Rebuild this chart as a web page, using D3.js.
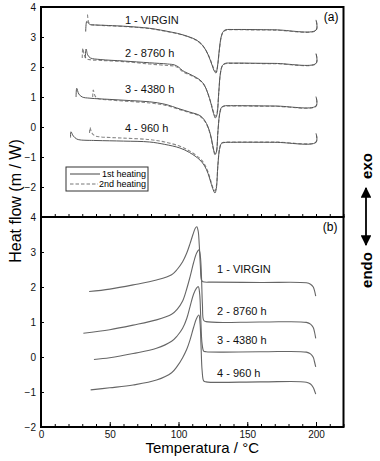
<!DOCTYPE html>
<html lang="en">
<head>
<meta charset="UTF-8">
<title>DSC heating / cooling</title>
<script src="https://d3js.org/d3.v7.min.js"></script>
<style>
  body { margin: 0; background: #fff; }
  svg { font-family: "Liberation Sans", Arial, sans-serif; }
  .tick text { font-size: 10px; fill: #111; }
  .tick line { stroke: #000; }
</style>
</head>
<body>
<svg id="chart" width="380" height="461"></svg>
<script>
// ---- data (temperature °C, heat flow) ----
// panel (a): heating scans
var heat1_virgin = [[32.5,3.18],[33.3,3.52],[34.5,3.46],[36,3.41],[40,3.40],[60,3.36],[79,3.29],[94,3.17],[101,3.1],[108,3.0],[113,2.9],[117,2.75],[120,2.55],[122.5,2.3],[124.5,2.05],[126.2,1.85],[127.3,1.8],[128.3,2.0],[129.5,2.5],[131,3.0],[132.5,3.18],[134.5,3.24],[140,3.25],[170,3.24],[200,3.23],[200,3.57]];
var heat2_virgin = [[33.8,3.75],[34.6,3.5],[35.5,3.43],[40,3.40],[60,3.35],[79,3.28],[94,3.16],[101,3.09],[108,2.99],[113,2.89],[117,2.74],[120,2.55],[122.5,2.32],[124.5,2.08],[126.2,1.9],[127.5,1.84],[128.5,2.05],[129.7,2.55],[131.2,3.02],[132.7,3.18],[134.5,3.23],[140,3.24],[170,3.23],[200,3.22],[200,3.57]];
var heat1_8760 = [[32.2,2.3],[32.8,2.6],[34,2.4],[36,2.3],[43,2.25],[60,2.2],[79,2.14],[92,2.1],[97,2.07],[100,2.0],[103,1.88],[110,1.72],[115.6,1.57],[119,1.38],[121.5,1.1],[123.5,0.8],[125.5,0.45],[126.8,0.3],[128,0.42],[129.2,1.1],[130.5,1.8],[132,2.05],[134,2.12],[140,2.13],[170,2.12],[200,2.12],[200,2.45]];
var heat2_8760 = [[30,2.3],[30.4,2.62],[31.5,2.4],[33,2.28],[36,2.24],[43,2.22],[60,2.18],[79,2.1],[92,2.05],[97,2.03],[100,1.97],[103,1.85],[110,1.7],[115.6,1.55],[119,1.37],[121.5,1.1],[123.5,0.82],[125.5,0.5],[126.9,0.36],[128,0.48],[129.3,1.15],[130.6,1.82],[132,2.05],[134,2.11],[140,2.12],[170,2.11],[200,2.11],[200,2.45]];
var heat1_4380 = [[25.5,1.0],[26,1.29],[27.5,1.1],[30,1.0],[35.6,0.96],[50,0.92],[65,0.88],[79,0.84],[90,0.76],[101,0.6],[108,0.5],[115.6,0.38],[119,0.22],[121.5,0.0],[123.5,-0.3],[125.3,-0.7],[126.5,-0.92],[127.5,-0.85],[128.6,-0.2],[129.8,0.4],[131.2,0.65],[133,0.7],[140,0.71],[170,0.7],[200,0.7],[200,1.01]];
var heat2_4380 = [[37.6,1.0],[38,1.23],[39.5,1.02],[42,0.94],[50,0.9],[65,0.85],[79,0.8],[90,0.73],[101,0.58],[108,0.48],[115.6,0.36],[119,0.2],[121.5,-0.02],[123.5,-0.33],[125.3,-0.73],[126.6,-0.88],[127.6,-0.8],[128.7,-0.15],[129.9,0.42],[131.3,0.64],[133,0.69],[140,0.7],[170,0.69],[200,0.69],[200,1.01]];
var heat1_960 = [[21.5,-0.35],[21.8,-0.16],[23.5,-0.3],[26,-0.4],[28.4,-0.43],[40,-0.45],[60,-0.47],[79,-0.5],[90,-0.58],[101,-0.7],[108,-0.85],[115.6,-1.1],[119,-1.3],[121.5,-1.55],[123.5,-1.85],[125.3,-2.1],[126.5,-2.2],[127.5,-2.05],[128.6,-1.3],[129.8,-0.75],[131.2,-0.55],[133,-0.52],[140,-0.51],[170,-0.51],[200,-0.51],[200,-0.21]];
var heat2_960 = [[35.3,-0.2],[35.6,-0.02],[37,-0.2],[39.5,-0.3],[43,-0.33],[60,-0.37],[79,-0.42],[90,-0.5],[101,-0.64],[108,-0.8],[115.6,-1.05],[119,-1.25],[121.5,-1.5],[123.5,-1.8],[125.3,-2.05],[126.6,-2.12],[127.6,-1.95],[128.7,-1.25],[129.9,-0.72],[131.3,-0.54],[133,-0.51],[140,-0.5],[170,-0.5],[200,-0.5],[200,-0.21]];

// panel (b): cooling scans
var cool_virgin = [[35,1.87],[50,1.94],[67,2.06],[84,2.2],[95,2.35],[99,2.5],[103,2.72],[106,2.97],[108.4,3.24],[110.5,3.5],[112.2,3.68],[113.3,3.72],[114.3,3.6],[115.1,3.2],[115.9,2.6],[116.7,2.2],[117.8,2.15],[125,2.14],[160,2.13],[193,2.12],[196,2.08],[198,2.0],[199,1.88],[199.8,1.74]];
var cool_8760 = [[30.8,0.68],[50,0.78],[67,0.91],[84,1.06],[95,1.22],[99,1.36],[103,1.6],[106,1.95],[108.4,2.29],[111,2.7],[113.2,2.97],[114.9,3.06],[115.9,2.88],[116.7,2.3],[117.4,1.5],[118.3,1.05],[120,1.01],[160,1.0],[193,0.99],[196,0.94],[198,0.84],[199,0.7],[199.8,0.53]];
var cool_4380 = [[38.5,-0.07],[50,-0.02],[67,0.1],[84,0.25],[95,0.45],[99,0.6],[103,0.82],[106,1.1],[108.4,1.44],[111,1.8],[113.1,1.97],[114.4,2.01],[115.4,1.8],[116.2,1.1],[117.1,0.4],[118.3,0.17],[120,0.15],[160,0.15],[193,0.14],[196,0.09],[198,-0.01],[199,-0.15],[199.8,-0.28]];
var cool_960 = [[36.1,-0.94],[50,-0.88],[67,-0.8],[84,-0.66],[95,-0.45],[99,-0.27],[103,-0.02],[106,0.22],[108.4,0.49],[111,0.85],[113.1,1.1],[114.8,1.2],[115.7,0.95],[116.4,0.3],[117.2,-0.4],[118.3,-0.68],[120,-0.71],[160,-0.71],[193,-0.72],[196,-0.77],[198,-0.87],[199,-0.97],[199.8,-1.06]];

var sampleNames = ["1 - VIRGIN", "2 - 8760 h", "3 - 4380 h", "4 - 960 h"];
// label anchor points (T, value) for each sample in each panel
var labelsA = [[61,3.44],[61,2.34],[61,1.15],[61,-0.16]];
var labelsB = [[128,2.4],[128,1.21],[128,0.37],[128,-0.57]];

var xTicks = [0, 50, 100, 150, 200];
var yTicksA = [-2, -1, 0, 1, 2, 3, 4];
var yTicksB = [-2, -1, 0, 1, 2, 3, 4];
var legendNames = ["1st heating", "2nd heating"];

// ---- layout ----
var svg = d3.select("#chart");
var left = 41, right = 343.5;
var topA = 7, botA = 217, topB = 217, botB = 427;

var x = d3.scaleLinear().domain([0, 220]).range([left, right]);
var yA = d3.scaleLinear().domain([-3, 4]).range([botA, topA]);
var yB = d3.scaleLinear().domain([-2, 4]).range([botB, topB]);

var curve = d3.curveCatmullRom.alpha(0.5);
var lineA = d3.line().x(d => x(d[0])).y(d => yA(d[1])).curve(curve);
var lineB = d3.line().x(d => x(d[0])).y(d => yB(d[1])).curve(curve);

// ---- panel (a) curves ----
var firstHeat = [heat1_virgin, heat1_8760, heat1_4380, heat1_960];
var secondHeat = [heat2_virgin, heat2_8760, heat2_4380, heat2_960];

svg.append("g").selectAll("path").data(secondHeat).enter().append("path")
    .attr("d", lineA).attr("fill", "none")
    .attr("stroke", "#888").attr("stroke-width", 1.1)
    .attr("stroke-dasharray", "3.5,2");
svg.append("g").selectAll("path").data(firstHeat).enter().append("path")
    .attr("d", lineA).attr("fill", "none")
    .attr("stroke", "#555").attr("stroke-width", 1);

// ---- panel (b) curves ----
var cooling = [cool_virgin, cool_8760, cool_4380, cool_960];
svg.append("g").selectAll("path").data(cooling).enter().append("path")
    .attr("d", lineB).attr("fill", "none")
    .attr("stroke", "#666").attr("stroke-width", 1.1);

// sample labels
svg.append("g").selectAll("text").data(labelsA).enter().append("text")
    .attr("x", d => x(d[0])).attr("y", d => yA(d[1]))
    .attr("font-size", 11).attr("fill", "#111")
    .text((d, i) => sampleNames[i]);
svg.append("g").selectAll("text").data(labelsB).enter().append("text")
    .attr("x", d => x(d[0])).attr("y", d => yB(d[1]))
    .attr("font-size", 11).attr("fill", "#111")
    .text((d, i) => sampleNames[i]);

// ---- axes ----
var minorTicks = d3.range(0, 221, 10);

// panel (a): left axis, bottom minor ticks
svg.append("g").attr("transform", "translate(" + left + ",0)")
    .call(d3.axisLeft(yA).tickValues(yTicksA).tickSize(-3).tickPadding(5).tickFormat(d3.format("d")))
    .call(g => g.select(".domain").remove());
svg.append("g").attr("transform", "translate(0," + botA + ")")
    .call(d3.axisBottom(x).tickValues(minorTicks).tickSize(-3).tickFormat(""))
    .call(g => g.select(".domain").remove());

// panel (b): left axis, bottom axis
svg.append("g").attr("transform", "translate(" + left + ",0)")
    .call(d3.axisLeft(yB).tickValues(yTicksB).tickSize(-3).tickPadding(5).tickFormat(d3.format("d")))
    .call(g => g.select(".domain").remove());
svg.append("g").attr("transform", "translate(0," + botB + ")")
    .call(d3.axisBottom(x).tickValues(minorTicks).tickSize(-3).tickFormat(""))
    .call(g => g.select(".domain").remove());
svg.append("g").attr("transform", "translate(0," + botB + ")")
    .call(d3.axisBottom(x).tickValues(xTicks).tickSize(-5).tickPadding(4))
    .call(g => g.select(".domain").remove());

// frames
svg.append("rect").attr("x", left).attr("y", topA)
    .attr("width", right - left).attr("height", botA - topA)
    .attr("fill", "none").attr("stroke", "#000").attr("stroke-width", 2);
svg.append("rect").attr("x", left).attr("y", topB)
    .attr("width", right - left).attr("height", botB - topB)
    .attr("fill", "none").attr("stroke", "#000").attr("stroke-width", 2);

// panel tags
svg.append("text").attr("x", right - 5).attr("y", topA + 14)
    .attr("text-anchor", "end").attr("font-size", 12).text("(a)");
svg.append("text").attr("x", right - 6).attr("y", topB + 14)
    .attr("text-anchor", "end").attr("font-size", 12).text("(b)");

// legend
var lg = svg.append("g").attr("transform", "translate(66,167)");
lg.append("rect").attr("width", 82).attr("height", 24)
    .attr("fill", "#fff").attr("stroke", "#333").attr("stroke-width", 1);
lg.selectAll("line").data(legendNames).enter().append("line")
    .attr("x1", 4).attr("x2", (d, i) => i ? 32 : 34)
    .attr("y1", (d, i) => 7 + i * 10).attr("y2", (d, i) => 7 + i * 10)
    .attr("stroke", (d, i) => i ? "#777" : "#444")
    .attr("stroke-dasharray", (d, i) => i ? "3.5,2" : null);
lg.selectAll("text").data(legendNames).enter().append("text")
    .attr("x", 80).attr("y", (d, i) => 10 + i * 10)
    .attr("text-anchor", "end").attr("font-size", 9).text(d => d);

// axis titles
svg.append("text").attr("transform", "translate(15,201) rotate(-90)")
    .attr("text-anchor", "middle").attr("dominant-baseline", "central")
    .attr("font-size", 16).text("Heat flow (m / W)");
svg.append("text").attr("x", (left + right) / 2 + 10).attr("y", 453)
    .attr("text-anchor", "middle").attr("font-size", 15).text("Temperatura / °C");

// exo / endo marker
svg.append("text").attr("transform", "translate(366,166) rotate(-90)")
    .attr("text-anchor", "middle").attr("dominant-baseline", "central")
    .attr("font-size", 15).attr("font-weight", "bold").text("exo");
svg.append("text").attr("transform", "translate(366,270) rotate(-90)")
    .attr("text-anchor", "middle").attr("dominant-baseline", "central")
    .attr("font-size", 15).attr("font-weight", "bold").text("endo");
var defs = svg.append("defs");
defs.append("marker").attr("id", "ah").attr("viewBox", "0 0 10 10")
    .attr("refX", 9).attr("refY", 5).attr("markerWidth", 6).attr("markerHeight", 6)
    .attr("orient", "auto-start-reverse")
    .append("path").attr("d", "M0,0 L10,5 L0,10 z").attr("fill", "#000");
svg.append("line").attr("x1", 366).attr("x2", 366).attr("y1", 188).attr("y2", 245)
    .attr("stroke", "#000").attr("stroke-width", 1.8)
    .attr("marker-start", "url(#ah)").attr("marker-end", "url(#ah)");
</script>
</body>
</html>
